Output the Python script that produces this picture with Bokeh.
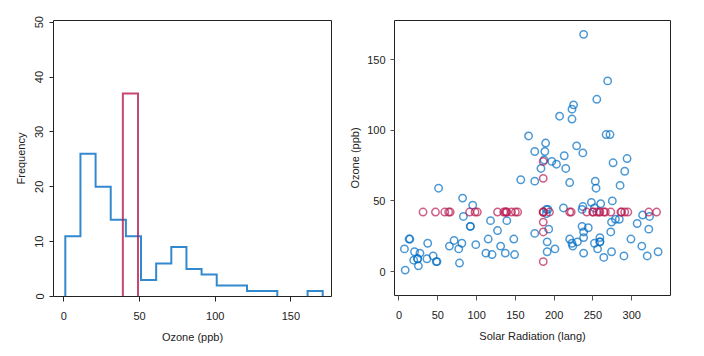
import numpy as np
from bokeh.plotting import figure
from bokeh.layouts import row
from bokeh.models import ColumnDataSource, FixedTicker
from bokeh.embed import file_html
from bokeh.resources import INLINE

# ---------------- data ----------------
# histogram bins (left edges, width 10) and counts
bin_starts = [0, 10, 20, 30, 40, 50, 60, 70, 80, 90, 100, 110, 120, 130, 140, 150, 160]
obs_counts = [11, 26, 20, 14, 11, 3, 6, 9, 5, 4, 2, 2, 1, 1, 0, 0, 1]
imp_counts = [0, 0, 0, 0, 37, 0, 0, 0, 0, 0, 0, 0, 0, 0, 0, 0, 0]

# airquality: Ozone and Solar.R (None = missing)
ozone = [41, 36, 12, 18, None, 28, 23, 19, 8, None, 7, 16, 11, 14, 18, 14, 34, 6, 30, 11,
         1, 11, 4, 32, None, None, None, 23, 45, 115, 37, None, None, None, None, None, None, 29, None, 71,
         39, None, None, 23, None, None, 21, 37, 20, 12, 13, None, None, None, None, None, None, None, None, None,
         None, 135, 49, 32, None, 64, 40, 77, 97, 97, 85, None, 10, 27, None, 7, 48, 35, 61, 79,
         63, 16, None, None, 80, 108, 20, 52, 82, 50, 64, 59, 39, 9, 16, 78, 35, 66, 122, 89,
         110, None, None, 44, 28, 65, None, 22, 59, 23, 31, 44, 21, 9, None, 45, 168, 73, None, 76,
         118, 84, 85, 96, 78, 73, 91, 47, 32, 20, 23, 21, 24, 44, 21, 28, 9, 13, 46, 18,
         13, 24, 16, 13, 23, 36, 7, 14, 30, None, 14, 18, 20]
solar = [190, 118, 149, 313, None, None, 299, 99, 19, 194, None, 256, 290, 274, 65, 334, 307, 78, 322, 44,
         8, 320, 25, 92, 66, 266, None, 13, 252, 223, 279, 286, 287, 242, 186, 220, 264, 127, 273, 291,
         323, 259, 250, 148, 332, 322, 191, 284, 37, 120, 137, 150, 59, 91, 250, 135, 127, 47, 98, 31,
         138, 269, 248, 236, 101, 175, 314, 276, 267, 272, 175, 139, 264, 175, 291, 48, 260, 274, 285, 187,
         220, 7, 258, 295, 294, 223, 81, 82, 213, 275, 253, 254, 83, 24, 77, None, None, None, 255, 229,
         207, 222, 137, 192, 273, 157, 64, 71, 51, 115, 244, 190, 259, 36, 255, 212, 238, 215, 153, 203,
         225, 237, 188, 167, 197, 183, 189, 95, 92, 252, 220, 230, 259, 236, 259, 238, 24, 112, 237, 224,
         27, 238, 201, 238, 14, 139, 49, 20, 193, 145, 191, 131, 223]

BLUE = "#006CC2"
RED = "#B61A51"
FONT = "Liberation Sans"
TXT = "#222222"


def step_runs(starts, counts, width, shift):
    xs, ys = [], []
    cx, cy = None, None
    for s, c in zip(starts, counts):
        left = s + shift
        right = left + width
        if c > 0:
            if cx is None:
                cx, cy = [left], [0]
            cx += [left, right]
            cy += [c, c]
        elif cx is not None:
            cx.append(cx[-1]); cy.append(0)
            xs.append(cx); ys.append(cy)
            cx = None
    if cx is not None:
        cx.append(cx[-1]); cy.append(0)
        xs.append(cx); ys.append(cy)
    return xs, ys


def style_axes(p):
    for ax in p.axis:
        ax.major_label_text_font = FONT
        ax.major_label_text_font_size = "11px"
        ax.major_label_text_color = TXT
        ax.axis_label_text_font = FONT
        ax.axis_label_text_font_size = "11px"
        ax.axis_label_text_font_style = "normal"
        ax.axis_label_text_color = TXT
        ax.axis_line_color = None
        ax.minor_tick_line_color = None
        ax.major_tick_in = 0
    p.grid.visible = False
    p.outline_line_color = "#222222"
    p.outline_line_width = 1
    p.outline_line_alpha = 1
    p.background_fill_color = "white"
    p.border_fill_color = "white"


# ---------------- left: histogram ----------------
p1 = figure(frame_width=278, frame_height=276, x_range=(-6.8, 176.8), y_range=(0, 50.3),
            output_backend="svg", toolbar_location=None,
            min_border_left=53, min_border_right=15, min_border_top=20, min_border_bottom=52,
            x_axis_label="Ozone (ppb)", y_axis_label="Frequency")

bx, by = step_runs(bin_starts, obs_counts, 10, 1)
rx, ry = step_runs(bin_starts, imp_counts, 10, -1)
p1.multi_line(bx, by, line_color=BLUE, line_alpha=0.8, line_width=2, line_join="miter")
p1.multi_line(rx, ry, line_color=RED, line_alpha=0.8, line_width=2, line_join="miter")

p1.xaxis.ticker = FixedTicker(ticks=[0, 50, 100, 150])
p1.yaxis.ticker = FixedTicker(ticks=[0, 10, 20, 30, 40, 50])
style_axes(p1)
p1.yaxis.major_label_orientation = "vertical"
p1.yaxis.major_tick_out = 4
p1.yaxis.major_label_standoff = 6
p1.yaxis.axis_label_standoff = 6
p1.xaxis.major_tick_out = 5
p1.xaxis.major_label_standoff = 10
p1.xaxis.axis_label_standoff = 8
p1.axis.major_tick_line_color = "#222222"

# ---------------- right: scatter ----------------
oz_obs = [v for v in ozone if v is not None]
so_obs = [v for v in solar if v is not None]
oz_mean = sum(oz_obs) / len(oz_obs)
so_mean = sum(so_obs) / len(so_obs)

cx_, cy_, ix_, iy_ = [], [], [], []
for o, s in zip(ozone, solar):
    if o is None or s is None:
        ix_.append(so_mean if s is None else s)
        iy_.append(oz_mean if o is None else o)
    else:
        cx_.append(s)
        cy_.append(o)

p2 = figure(frame_width=276, frame_height=275, x_range=(-5.8, 350), y_range=(-17, 177.8),
            output_backend="svg", toolbar_location=None,
            min_border_left=44, min_border_right=30, min_border_top=20, min_border_bottom=53,
            x_axis_label="Solar Radiation (lang)", y_axis_label="Ozone (ppb)")

p2.scatter(cx_, cy_, marker="circle", size=7.4, fill_color=None, line_color=BLUE,
           line_alpha=0.7, line_width=1.5)
p2.scatter(ix_, iy_, marker="circle", size=7.4, fill_color=None, line_color=RED,
           line_alpha=0.7, line_width=1.5)

p2.xaxis.ticker = FixedTicker(ticks=[0, 50, 100, 150, 200, 250, 300])
p2.yaxis.ticker = FixedTicker(ticks=[0, 50, 100, 150])
style_axes(p2)
p2.axis.major_tick_line_color = "#555555"
p2.yaxis.major_tick_out = 4
p2.yaxis.major_label_standoff = 5
p2.yaxis.axis_label_standoff = 3
p2.xaxis.major_tick_out = 5
p2.xaxis.major_label_standoff = 10
p2.xaxis.axis_label_standoff = 8

layout = row(p1, p2)
open("out.html", "w").write(file_html(layout, INLINE))
